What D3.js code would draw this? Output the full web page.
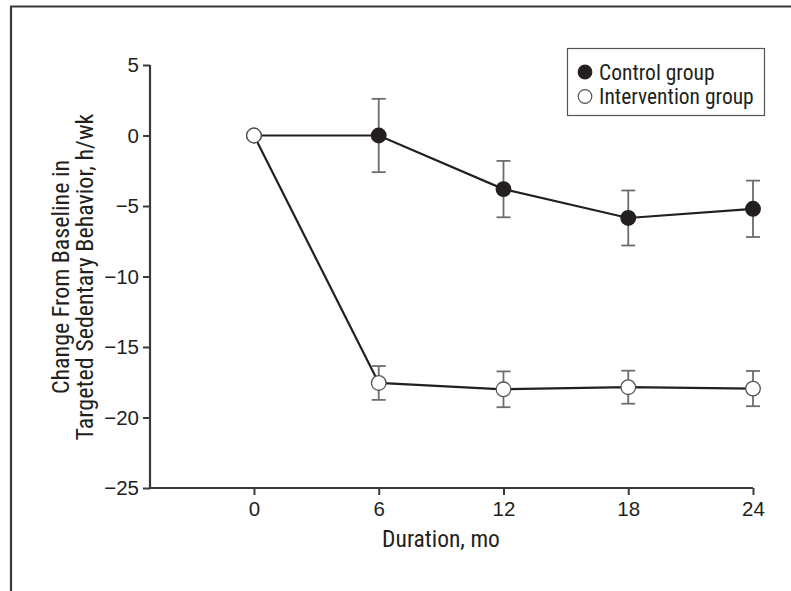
<!DOCTYPE html>
<html>
<head>
<meta charset="utf-8">
<script src="https://cdn.jsdelivr.net/npm/d3@7.9.0/dist/d3.min.js"></script>
<style>
  body { margin: 0; background: #fff; }
  svg { display: block; font-family: "Liberation Sans Narrow", "Roboto Condensed", "Arial Narrow", sans-serif; }
</style>
</head>
<body>
<svg id="chart" width="791" height="591"></svg>
<script>
// values
const months = [0, 6, 12, 18, 24];
const controlMean = [0, 0, -3.8, -5.85, -5.2];
const controlErr = [null, 2.6, 2.0, 1.95, 2.0];
const interventionMean = [0, -17.55, -18.0, -17.85, -17.95];
const interventionErr = [null, 1.2, 1.27, 1.17, 1.25];
const yTicks = [5, 0, -5, -10, -15, -20, -25];
const xTicks = [0, 6, 12, 18, 24];

const svg = d3.select('#chart');
const ink = '#231f20';

let x = d3.scaleLinear().domain([-5, 24]).range([150, 753]);
let y = d3.scaleLinear().domain([-25, 5]).range([488, 65]);

// frame (top + left edges only)
svg.append('path')
  .attr('d', 'M11,591 V6.5 H791')
  .attr('fill', 'none')
  .attr('stroke', '#3a3a3a')
  .attr('stroke-width', 2.2);

// axes
let yAxis = svg.append('g')
  .attr('transform', 'translate(150,0)')
  .call(d3.axisLeft(y).tickValues(yTicks).tickSize(7).tickPadding(4)
    .tickFormat((d) => d < 0 ? '\u2212' + Math.abs(d) : d));

let xAxis = svg.append('g')
  .attr('transform', 'translate(0,488)')
  .call(d3.axisBottom(x).tickValues(xTicks).tickSize(7).tickPadding(6));

[xAxis, yAxis].forEach((g) => {
  g.select('.domain').attr('stroke', '#3a3a3a').attr('stroke-width', 2.2);
  g.selectAll('.tick line').attr('stroke', '#3a3a3a').attr('stroke-width', 2);
  g.selectAll('.tick text').attr('fill', ink).style('font-size', '20.5px')
    .style('font-family', 'inherit');
});
xAxis.select('.domain').attr('d', 'M150,0H753');
yAxis.select('.domain').attr('d', 'M0,488V65');

// axis titles
svg.append('text')
  .attr('x', 441).attr('y', 547)
  .attr('text-anchor', 'middle')
  .attr('fill', ink)
  .style('font-size', '23.5px')
  .text('Duration, mo');

let yTitle = svg.append('text')
  .attr('transform', 'translate(0,277) rotate(-90)')
  .attr('text-anchor', 'middle')
  .attr('fill', ink)
  .style('font-size', '24px');
yTitle.append('tspan').attr('x', 0).attr('y', 69).text('Change From Baseline in');
yTitle.append('tspan').attr('x', 0).attr('y', 93).text('Targeted Sedentary Behavior, h/wk');

const series = [
  { mean: controlMean, err: controlErr, fill: ink },
  { mean: interventionMean, err: interventionErr, fill: '#fff' },
];

let line = d3.line().x((d) => x(d[0])).y((d) => y(d[1]));

series.forEach((s) => {
  svg.append('path')
    .attr('d', line(months.map((m, i) => [m, s.mean[i]])))
    .attr('fill', 'none')
    .attr('stroke', ink)
    .attr('stroke-width', 2.2);
});

series.forEach((s) => {
  months.forEach((m, i) => {
    if (s.err[i] === null) return;
    let cx = x(m);
    let top = y(s.mean[i] + s.err[i]);
    let bot = y(s.mean[i] - s.err[i]);
    let g = svg.append('g').attr('stroke', '#6d6d6d').attr('stroke-width', 1.8);
    g.append('line').attr('x1', cx).attr('x2', cx).attr('y1', top).attr('y2', bot);
    g.append('line').attr('x1', cx - 7).attr('x2', cx + 7).attr('y1', top).attr('y2', top);
    g.append('line').attr('x1', cx - 7).attr('x2', cx + 7).attr('y1', bot).attr('y2', bot);
  });
});

series.forEach((s) => {
  svg.append('g').selectAll('circle')
    .data(months.map((m, i) => [m, s.mean[i]]))
    .join('circle')
    .attr('cx', (d) => x(d[0]))
    .attr('cy', (d) => y(d[1]))
    .attr('r', 7.3)
    .attr('fill', s.fill)
    .attr('stroke', s.fill === '#fff' ? '#555' : ink)
    .attr('stroke-width', 1.3);
});

// legend
let legend = svg.append('g');
legend.append('rect')
  .attr('x', 567.5).attr('y', 48.5).attr('width', 197).attr('height', 67)
  .attr('fill', '#fff').attr('stroke', '#555').attr('stroke-width', 1.2);

const legendLabels = ['Control group', 'Intervention group'];
legendLabels.forEach((label, i) => {
  let cy = 72 + i * 24.5;
  legend.append('circle')
    .attr('cx', 585).attr('cy', cy).attr('r', 6.8)
    .attr('fill', series[i].fill)
    .attr('stroke', i === 0 ? ink : '#555')
    .attr('stroke-width', 1.2);
  legend.append('text')
    .attr('x', 599).attr('y', cy + 7.5)
    .attr('fill', ink)
    .style('font-size', '21.5px')
    .text(label);
});
</script>
</body>
</html>
